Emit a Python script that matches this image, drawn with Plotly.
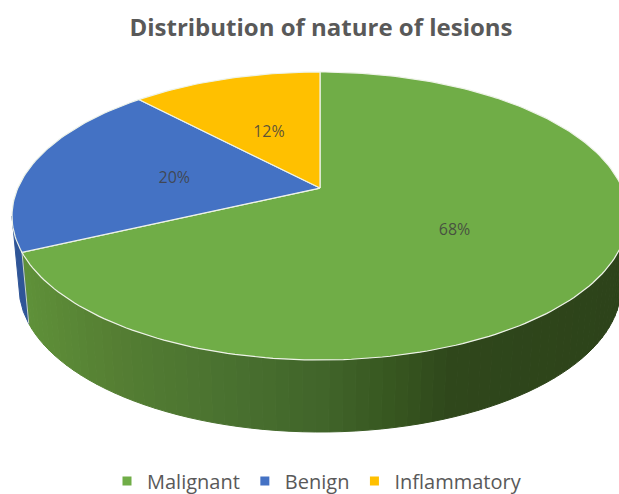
import math
import plotly.graph_objects as go

categories = ["Malignant", "Benign", "Inflammatory"]
values = [68, 20, 12]
colors = ["#70AD47", "#4472C4", "#FFC000"]
title_text = "Distribution of nature of lesions"

# Tilted-pie geometry in a pixel-sized data space
W, H = 619, 494
CX, CY, RX, RY = 320, 216, 308, 144     # top ellipse
BCY, BRX, BRY = 287, 301, 145           # bottom rim ellipse
K = 0.194                               # perspective shift of the pie's apex
LABEL_DY = 4


def project(theta, r=1.0):
    """Clockwise-from-top angle on the true disk -> unit ellipse coords."""
    u, v = r * math.sin(theta), r * math.cos(theta)
    d = 1 + K * v
    return u * math.sqrt(1 - K * K) / d, (v + K) / d


def top(theta, r=1.0):
    X, Y = project(theta, r)
    return CX + RX * X, CY - RY * Y


def bottom(theta):
    X, Y = project(theta)
    return CX + BRX * X, BCY - BRY * Y


def lerp_hex(stops, x):
    if x <= stops[0][0]:
        return stops[0][1]
    for (x0, c0), (x1, c1) in zip(stops, stops[1:]):
        if x <= x1:
            f = (x - x0) / (x1 - x0)
            a = [int(c0[i:i + 2], 16) for i in (1, 3, 5)]
            b = [int(c1[i:i + 2], 16) for i in (1, 3, 5)]
            return "rgb(%d,%d,%d)" % tuple(round(p + (q - p) * f) for p, q in zip(a, b))
    return stops[-1][1]


wall_stops = [(20, "#5F9139"), (110, "#557F33"), (220, "#4A7230"), (320, "#41652A"),
              (400, "#36551F"), (450, "#2F471B"), (620, "#2D431A")]

total = sum(values)
bounds = [0.0]
for val in values:
    bounds.append(bounds[-1] + val / total * 2 * math.pi)

fig = go.Figure()


def strip(t0, t1, color):
    n = 3
    ts = [t0 + (t1 - t0) * i / n for i in range(n + 1)]
    pts = [top(t) for t in ts] + [bottom(t) for t in reversed(ts)]
    pts.append(pts[0])
    fig.add_trace(go.Scatter(x=[p[0] for p in pts], y=[p[1] for p in pts], mode="lines",
                             fill="toself", fillcolor=color, line=dict(color=color, width=1),
                             hoverinfo="skip", showlegend=False))


# Side wall of the first slice, from the right extreme round to its end
wall_start = math.radians(100)
wall_end = bounds[1]
N = 70
for i in range(N):
    a = wall_start + (wall_end - wall_start) * i / N
    b = wall_start + (wall_end - wall_start) * (i + 1) / N
    strip(a, b, lerp_hex(wall_stops, top((a + b) / 2)[0]))

# Side wall of the second slice: visible from its start to the left extreme
left_extreme = 2 * math.pi - math.acos(-K)
strip(wall_end, left_extreme, "#2F5597")

# White seam between the two walls
p0, p1 = top(wall_end), bottom(wall_end)
fig.add_trace(go.Scatter(x=[p0[0], p1[0]], y=[p0[1], p1[1]], mode="lines",
                         line=dict(color="#C9D6C0", width=1), hoverinfo="skip", showlegend=False))

# Top faces
for i, name in enumerate(categories):
    n = max(10, int(values[i] * 3))
    ts = [bounds[i] + (bounds[i + 1] - bounds[i]) * j / n for j in range(n + 1)]
    pts = [top(t) for t in ts]
    apex = top(0, 0)
    xs = [apex[0]] + [p[0] for p in pts] + [apex[0]]
    ys = [apex[1]] + [p[1] for p in pts] + [apex[1]]
    fig.add_trace(go.Scatter(x=xs, y=ys, mode="lines", fill="toself", fillcolor=colors[i],
                             line=dict(color="#EEF3E8", width=1.2), hoverinfo="skip",
                             showlegend=False))

# Percentage labels
mids = [(bounds[i] + bounds[i + 1]) / 2 for i in range(3)]
label_pts = [top(m, 0.5) for m in mids]
fig.add_trace(go.Scatter(x=[p[0] for p in label_pts], y=[p[1] + LABEL_DY for p in label_pts],
                         mode="text", text=["%d%%" % v for v in values],
                         textfont=dict(family="Open Sans", size=16, color="rgba(64,64,64,0.85)"),
                         hoverinfo="skip", showlegend=False))

# Legend entries
for name, col in zip(categories, colors):
    fig.add_trace(go.Scatter(x=[None], y=[None], mode="markers", name=name,
                             marker=dict(symbol="square", size=9, color=col)))

fig.update_layout(
    width=W, height=H, margin=dict(l=0, r=0, t=0, b=0, autoexpand=False),
    paper_bgcolor="white", plot_bgcolor="white",
    xaxis=dict(range=[0, W], visible=False, fixedrange=True),
    yaxis=dict(range=[H, 0], visible=False, fixedrange=True),
    title=dict(text="<b>%s</b>" % title_text, x=321 / W, xanchor="center", y=1 - 28 / H,
               yanchor="middle", font=dict(family="Open Sans", size=24, color="#595959")),
    legend=dict(orientation="h", x=317 / W, xanchor="center", y=1 - 481 / H, yanchor="middle",
                font=dict(family="Open Sans", size=20, color="#595959"),
                itemwidth=30, bgcolor="rgba(0,0,0,0)"),
    showlegend=True,
)
fig.write_html("out.html", config=dict(displayModeBar=False),
               post_script="document.body.style.margin='0';document.body.style.overflow='hidden';")
